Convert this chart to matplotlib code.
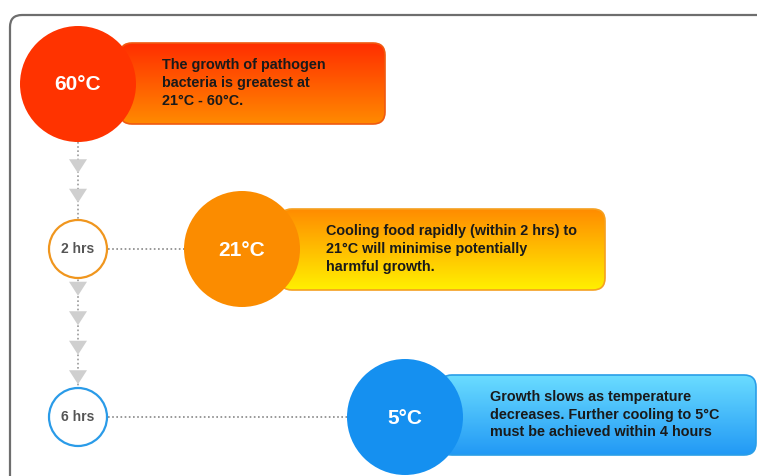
import matplotlib.pyplot as plt
import matplotlib.patches as mpatches
import numpy as np
from matplotlib.colors import to_rgb

plt.rcParams['font.family'] = ['Liberation Sans', 'DejaVu Sans']

# Contenu de l'infographie
temps = ["60°C", "21°C", "5°C"]
times = ["2 hrs", "6 hrs"]
descriptions = [
    "The growth of pathogen\nbacteria is greatest at\n21°C - 60°C.",
    "Cooling food rapidly (within 2 hrs) to\n21°C will minimise potentially\nharmful growth.",
    "Growth slows as temperature\ndecreases. Further cooling to 5°C\nmust be achieved within 4 hours",
]
circle_colors = ["#ff3300", "#fb8c00", "#1590f0"]
grad_top = ["#ff2e00", "#ff8c00", "#6adcff"]
grad_bottom = ["#ff8a00", "#fff000", "#2299f5"]
edge_colors = ["#f05a10", "#f5a020", "#2a9ee8"]
time_colors = ["#f0961e", "#2a9be8"]
arrows_between = [2, 4]  # nombre de triangles par segment

# Mise en page (pixels)
W, H = 757, 476
col_x = 78
rows_y = [84, 249, 417]
big_x = [78, 242, 405]
big_r = 58
small_r = 29
box = [(120, 43, 265, 81), (280, 209, 325, 81), (440, 375, 316, 80)]
text_x = [162, 326, 490]
tri_gap = 29.5

fig = plt.figure(figsize=(W / 100, H / 100), dpi=100)
ax = fig.add_axes([0, 0, 1, 1])

# Cadre
frame = mpatches.FancyBboxPatch((10, 15), 800, 520, boxstyle="round,pad=0,rounding_size=12",
                                fc="white", ec="#6e6e6e", lw=1.6, zorder=0)
ax.add_patch(frame)

# Ligne verticale pointillée
ax.plot([col_x, col_x], [rows_y[0] + big_r, rows_y[2] - small_r], ls=(0, (1, 1.5)),
        color="#999999", lw=1.2, zorder=1)

# Triangles
segments = [(rows_y[0] + big_r, rows_y[1] - small_r), (rows_y[1] + small_r, rows_y[2] - small_r)]
for (a, b), n in zip(segments, arrows_between):
    mid = (a + b) / 2
    for k in range(n):
        yc = mid + (k - (n - 1) / 2) * tri_gap
        tri = mpatches.Polygon([[col_x - 9, yc - 7], [col_x + 9, yc - 7], [col_x, yc + 7]],
                               closed=True, fc="#cfcfcf", ec="none", zorder=2)
        ax.add_patch(tri)

# Lignes horizontales pointillées
for i in range(2):
    y = rows_y[i + 1]
    ax.plot([col_x + small_r + 1, big_x[i + 1] - big_r], [y, y], ls=(0, (1, 1.5)),
            color="#888888", lw=1.2, zorder=1)

# Boîtes avec dégradé
for i in range(3):
    x0, y0, w, h = box[i]
    patch = mpatches.FancyBboxPatch((x0, y0), w, h, boxstyle="round,pad=0,rounding_size=12",
                                    fc="none", ec=edge_colors[i], lw=1.2, zorder=4)
    ax.add_patch(patch)
    c0, c1 = np.array(to_rgb(grad_top[i])), np.array(to_rgb(grad_bottom[i]))
    t = np.linspace(0, 1, 100)[:, None, None]
    img = c0 * (1 - t) + c1 * t
    im = ax.imshow(img, extent=(x0, x0 + w, y0 + h, y0), origin="upper", aspect="auto", zorder=3)
    im.set_clip_path(patch)
    ax.text(text_x[i], y0 + h / 2 - 0.5, descriptions[i], fontsize=10.4, fontweight="bold",
            color="#1a1a1a", va="center", ha="left", linespacing=1.32, zorder=6)

# Grands cercles
for i in range(3):
    ax.add_patch(mpatches.Circle((big_x[i], rows_y[i]), big_r, fc=circle_colors[i], ec="none", zorder=5))
    ax.text(big_x[i], rows_y[i] + 1, temps[i], fontsize=15, fontweight="bold", color="white",
            ha="center", va="center", zorder=6)

# Petits cercles (temps)
for i in range(2):
    y = rows_y[i + 1]
    ax.add_patch(mpatches.Circle((col_x, y), small_r, fc="white", ec=time_colors[i], lw=1.6, zorder=5))
    ax.text(col_x, y, times[i], fontsize=10, fontweight="bold", color="#555555",
            ha="center", va="center", zorder=6)

ax.set_xlim(0, W)
ax.set_ylim(H, 0)
ax.axis("off")

fig.savefig("out.png", dpi=100)
